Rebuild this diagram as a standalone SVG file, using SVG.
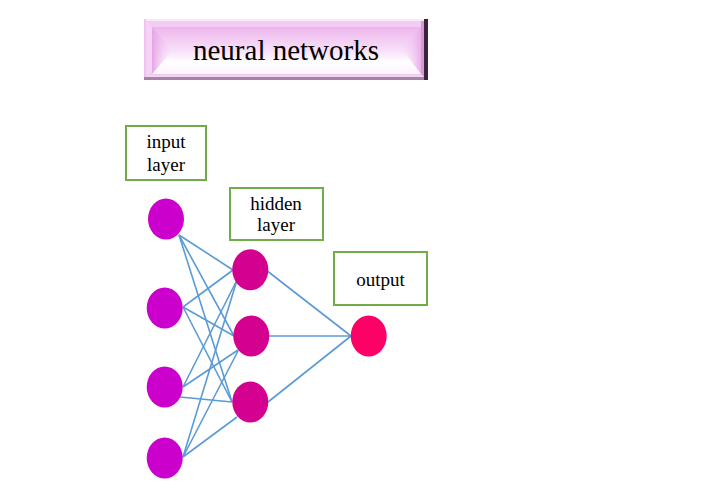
<svg xmlns="http://www.w3.org/2000/svg" width="716" height="496" viewBox="0 0 716 496">
<defs>
<linearGradient id="faceV" x1="0" y1="0" x2="0" y2="1">
<stop offset="0" stop-color="#EDB6ED"/>
<stop offset="0.5" stop-color="#F8E0F8"/>
<stop offset="0.75" stop-color="#FFFFFF"/>
<stop offset="1" stop-color="#FCF2FC"/>
</linearGradient>
<linearGradient id="leftG" x1="0" y1="0" x2="1" y2="0">
<stop offset="0" stop-color="#E6A4E6"/>
<stop offset="1" stop-color="#F6D8F6" stop-opacity="0"/>
</linearGradient>
<linearGradient id="rightG" x1="1" y1="0" x2="0" y2="0">
<stop offset="0" stop-color="#EAAEEA"/>
<stop offset="1" stop-color="#F6D8F6" stop-opacity="0"/>
</linearGradient>
<style>
.lbl{fill:#FFFFFF;stroke:#70AD47;stroke-width:2}
.t{font-family:"Liberation Serif","Times New Roman",serif;font-size:19px;fill:#000;text-anchor:middle}
.in{fill:#CC00CC}
.hid{fill:#D4008F}
.out{fill:#FF0066}
.c line{stroke:#5B9BD5;stroke-width:1.6}
</style>
</defs>
<rect width="716" height="496" fill="#FFFFFF"/>

<g id="title">
<rect x="144" y="19" width="284" height="61" fill="#A483A4"/>
<rect x="424" y="19" width="4" height="61" fill="#3A223A"/>
<rect x="144" y="19" width="280" height="58" fill="#F6D2F6"/>
<rect x="144" y="19" width="280" height="2" fill="#FBE6FB"/>
<rect x="144" y="19" width="2" height="58" fill="#EFC2EF"/>
<polygon points="146,21 422,21 421,27 152,27" fill="#F3CCF3"/>
<polygon points="146,75 422,75 421,73 152,73" fill="#E8CDE8"/>
<polygon points="421,21 424,21 424,77 421,74" fill="#D49AD4"/>
<rect x="152" y="27" width="269" height="47" fill="url(#faceV)"/>
<polygon points="152,27 173,50 152,74" fill="url(#leftG)"/>
<polygon points="421,27 401,48 421,74" fill="url(#rightG)"/>
<text x="286" y="60" class="t" style="font-size:29px">neural networks</text>
</g>

<g class="c" id="connectors">
<line x1="179" y1="235" x2="233" y2="270"/>
<line x1="179" y1="235" x2="234" y2="336"/>
<line x1="179" y1="235" x2="232" y2="402"/>
<line x1="183" y1="307" x2="233" y2="270"/>
<line x1="183" y1="307" x2="234" y2="336"/>
<line x1="183" y1="307" x2="232" y2="402"/>
<line x1="183" y1="387" x2="237" y2="280"/>
<line x1="183" y1="387" x2="238" y2="350"/>
<line x1="180" y1="397" x2="232" y2="402"/>
<line x1="183" y1="457" x2="237" y2="280"/>
<line x1="183" y1="457" x2="238" y2="351"/>
<line x1="183" y1="457" x2="237" y2="417"/>
<line x1="266" y1="270" x2="351" y2="336"/>
<line x1="269" y1="336" x2="351" y2="336"/>
<line x1="268" y1="402" x2="351" y2="336"/>
</g>

<g id="label-input">
<rect x="126" y="126" width="80" height="54" class="lbl"/>
<text x="166" y="148" class="t">input</text>
<text x="166" y="171" class="t">layer</text>
</g>
<g id="label-hidden">
<rect x="230" y="188" width="93" height="52" class="lbl"/>
<text x="276" y="210" class="t">hidden</text>
<text x="276" y="231" class="t">layer</text>
</g>
<g id="label-output">
<rect x="334" y="252" width="93" height="53" class="lbl"/>
<text x="380.5" y="285.5" class="t">output</text>
</g>

<g id="in1"><ellipse cx="166" cy="219" rx="18" ry="20.5" class="in"/></g>
<g id="in2"><ellipse cx="164.7" cy="308" rx="18" ry="20.5" class="in"/></g>
<g id="in3"><ellipse cx="164.7" cy="387" rx="18" ry="20.5" class="in"/></g>
<g id="in4"><ellipse cx="164.7" cy="458" rx="18" ry="20.5" class="in"/></g>
<g id="h1"><ellipse cx="250.3" cy="269.7" rx="18" ry="20.5" class="hid"/></g>
<g id="h2"><ellipse cx="251.3" cy="336" rx="18" ry="20.5" class="hid"/></g>
<g id="h3"><ellipse cx="250.3" cy="402" rx="18" ry="20.5" class="hid"/></g>
<g id="out"><ellipse cx="368.7" cy="336" rx="18" ry="20.5" class="out"/></g>
</svg>
